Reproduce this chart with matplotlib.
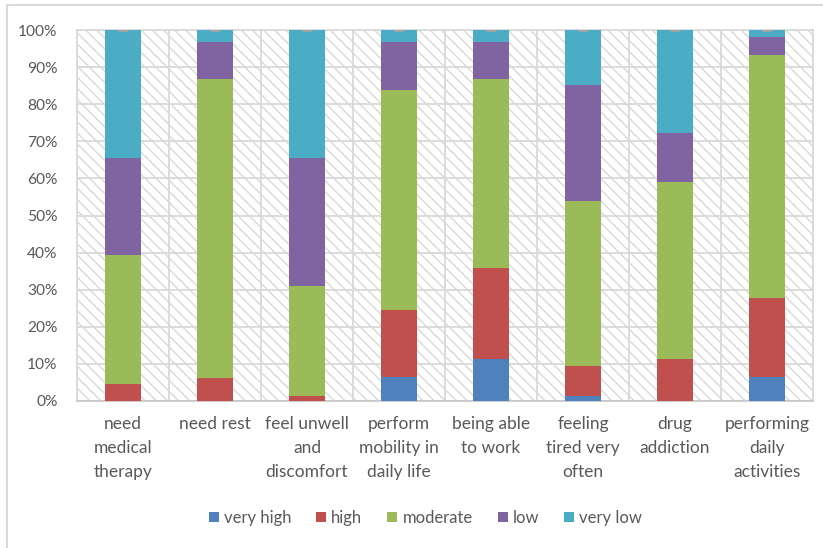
import matplotlib.pyplot as plt
import matplotlib.patches as patches
import numpy as np

categories = ['need\nmedical\ntherapy', 'need rest', 'feel unwell\nand\ndiscomfort',
              'perform\nmobility in\ndaily life', 'being able\nto work', 'feeling\ntired very\noften',
              'drug\naddiction', 'performing\ndaily\nactivities']
series = ['very high', 'high', 'moderate', 'low', 'very low']

very_high = [0.0, 0.0, 0.0, 6.4, 11.3, 1.4, 0.0, 6.4]
high = [4.6, 6.3, 1.4, 18.1, 24.6, 8.1, 11.2, 21.3]
moderate = [34.8, 80.6, 29.7, 59.2, 51.0, 44.5, 47.8, 65.6]
low = [26.2, 9.8, 34.5, 13.0, 9.8, 31.2, 13.2, 4.9]
very_low = [34.4, 3.3, 34.4, 3.3, 3.3, 14.8, 27.8, 1.8]

colors = ['#4F81BD', '#C0504D', '#9BBB59', '#8064A2', '#4BACC6']
GRID = '#d9d9d9'
TXT = '#595959'
FS = 12.5

plt.rcParams['font.family'] = ['Lato', 'DejaVu Sans']
plt.rcParams['hatch.color'] = '#dcdcdc'
plt.rcParams['hatch.linewidth'] = 1.0

fig = plt.figure(figsize=(8.23, 5.48), dpi=100)
ax = fig.add_axes([77/823, 1-401/548, 736/823, 371/548])

# fond hachuré de la zone de tracé
ax.patch.set_facecolor('white')
ax.patch.set_hatch('\\\\\\')
ax.patch.set_edgecolor(GRID)

x = np.arange(len(categories))
data = [very_high, high, moderate, low, very_low]
bottom = np.zeros(len(categories))
for name, vals, c in zip(series, data, colors):
    ax.bar(x, vals, bottom=bottom, width=0.4, color=c, label=name, zorder=3)
    bottom += np.array(vals)

# petit trait gris au sommet des barres
ax.plot(x, bottom, linestyle='none', marker='_', markersize=7, mew=2, color='#a6a6a6', zorder=4)

ax.set_xlim(-0.5, len(categories) - 0.5)
ax.set_ylim(0, 100)
ax.set_yticks(np.arange(0, 101, 10))
ax.set_yticklabels(['{}%'.format(v) for v in range(0, 101, 10)])
ax.set_xticks(x)
ax.set_xticklabels(categories, linespacing=1.6)
ax.set_xticks(np.arange(-0.5, len(categories)), minor=True)

ax.grid(axis='y', which='major', color=GRID, linewidth=1.3, zorder=1)
ax.grid(axis='x', which='minor', color=GRID, linewidth=1.3, zorder=1)
ax.grid(axis='x', which='major', visible=False)
ax.set_axisbelow(True)

for s in ax.spines.values():
    s.set_color(GRID)
    s.set_linewidth(1.3)
ax.spines['bottom'].set_color('#c8c8c8')

ax.tick_params(axis='both', which='both', length=0, colors=TXT, labelsize=FS)
ax.tick_params(axis='y', pad=14, labelsize=11.2)
ax.tick_params(axis='x', pad=11)

leg = fig.legend(loc='center', bbox_to_anchor=(0.517, 1-518/548), ncol=5, frameon=False,
                 fontsize=12, handlelength=0.6, handleheight=0.6, handletextpad=0.3,
                 columnspacing=1.5)
for t in leg.get_texts():
    t.set_color(TXT)

# cadre du graphique (seuls les bords haut et gauche sont visibles)
fig.patches.append(patches.Rectangle((7/823, -0.05), 1.0, 1.05 - 5/548, transform=fig.transFigure,
                                     fill=False, edgecolor='#d9d9d9', linewidth=1.5))

fig.savefig('out.png', dpi=100)
